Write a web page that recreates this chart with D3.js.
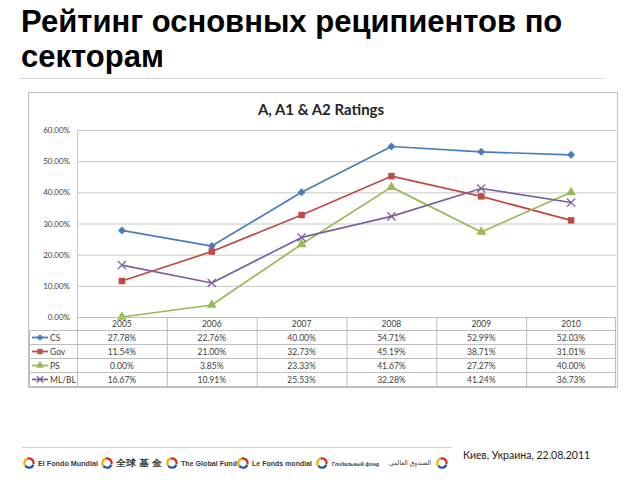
<!DOCTYPE html>
<html><head><meta charset="utf-8">
<script src="https://cdn.jsdelivr.net/npm/d3@7/dist/d3.min.js"></script>
<style>
html,body{margin:0;padding:0;background:#fff;}
svg{display:block;}
</style></head>
<body>
<svg id="c" width="640" height="480"></svg>
<script>
const years = ["2005","2006","2007","2008","2009","2010"];
const seriesNames = ["CS","Gov","PS","ML/BL"];
const CS   = [27.78, 22.76, 40.00, 54.71, 52.99, 52.03];
const Gov  = [11.54, 21.00, 32.73, 45.19, 38.71, 31.01];
const PS   = [0.00, 3.85, 23.33, 41.67, 27.27, 40.00];
const MLBL = [16.67, 10.91, 25.53, 32.28, 41.24, 36.73];
const yTicks = [0, 10, 20, 30, 40, 50, 60];
const pageTitle = ["Рейтинг основных реципиентов по", "секторам"];
const chartTitle = "A, A1 & A2 Ratings";
const footerText = "Киев, Украина, 22.08.2011";
const logoNames = ["El Fondo Mundial", "全球 基 金", "The Global Fund", "Le Fonds mondial", "Глобальный фонд", "الصندوق العالمي"];

(function(){
const series = [
  {name: seriesNames[0], values: CS,   color: "#4A7EBB", sym: "diamond"},
  {name: seriesNames[1], values: Gov,  color: "#BE4B48", sym: "square"},
  {name: seriesNames[2], values: PS,   color: "#98B954", sym: "triangle"},
  {name: seriesNames[3], values: MLBL, color: "#7D60A0", sym: "x"}
];

const svg = d3.select("#c");

// Page title
const tt = svg.append("text").attr("font-family","Liberation Sans, Arial, sans-serif")
  .attr("font-weight","bold").attr("font-size",31).attr("fill","#000");
pageTitle.forEach((t,i)=> tt.append("tspan").attr("x",21).attr("y",32 + i*35).text(t));
svg.append("line").attr("x1",20).attr("x2",605).attr("y1",78.5).attr("y2",78.5)
  .attr("stroke","#d9d9d9").attr("stroke-width",1.2);

// Chart frame
svg.append("rect").attr("x",28.5).attr("y",92.5).attr("width",589).attr("height",295)
  .attr("fill","#fff").attr("stroke","#bfbfbf").attr("stroke-width",1);

svg.append("text").attr("x",321).attr("y",115).attr("text-anchor","middle")
  .attr("font-family","Lato, 'Open Sans', sans-serif").attr("font-weight","bold")
  .attr("font-size",15).attr("fill","#262626").text(chartTitle);

const pLeft = 77, pRight = 616, pTop = 130, pBottom = 317;
const x = d3.scaleBand().domain(years).range([pLeft, pRight]);
const y = d3.scaleLinear().domain([0, 60]).range([pBottom, pTop]);

const fmtAxis = v => d3.format(".2%")(v/100);
const gAxis = svg.append("g").attr("transform",`translate(${pLeft},0)`)
  .call(d3.axisLeft(y).tickValues(yTicks).tickSize(-(pRight-pLeft)).tickPadding(7).tickFormat(fmtAxis));
gAxis.select(".domain").remove();
gAxis.selectAll(".tick line").attr("stroke","#c8c8c8").attr("stroke-width",1);
gAxis.selectAll(".tick text").attr("font-family","Lato, 'Open Sans', sans-serif")
  .attr("font-size",8).attr("fill","#404040");
svg.append("line").attr("x1",pLeft+0.5).attr("x2",pLeft+0.5).attr("y1",pTop).attr("y2",pBottom)
  .attr("stroke","#c8c8c8");

function symPath(s, size){
  if (s==="diamond") return d3.symbol(d3.symbolSquare, size*0.8)();
  if (s==="square") return d3.symbol(d3.symbolSquare, size)();
  if (s==="triangle") return d3.symbol(d3.symbolTriangle, size)();
  return d3.symbol(d3.symbolX || d3.symbolCross, size)();
}
function symStyle(sel, s, color){
  if (s==="x") sel.attr("fill","none").attr("stroke",color).attr("stroke-width",1.3);
  else sel.attr("fill",color).attr("stroke","none");
}
const rot = s => s==="diamond" ? " rotate(45)" : "";

const cx = d => x(d) + x.bandwidth()/2;
const line = d3.line().x((d,i)=>cx(years[i])).y(d=>y(d));

series.forEach(s=>{
  svg.append("path").datum(s.values).attr("d",line).attr("fill","none")
    .attr("stroke",s.color).attr("stroke-width",1.7).attr("stroke-linejoin","round");
});
series.forEach(s=>{
  const g = svg.append("g");
  s.values.forEach((v,i)=>{
    const p = g.append("path").attr("d",symPath(s.sym, s.sym==="diamond"?40:(s.sym==="x"?45:42)))
      .attr("transform",`translate(${cx(years[i])},${y(v)})${rot(s.sym)}`);
    symStyle(p, s.sym, s.color);
  });
});

// Data table
const rowH = 14, headTop = pBottom, headH = 13, legLeft = 29;
const tbl = svg.append("g").attr("font-family","Lato, 'Open Sans', sans-serif").attr("font-size",8.5).attr("fill","#404040");
const tableBottom = headTop + headH + rowH*series.length;
const lc = "#bfbfbf";
tbl.append("line").attr("x1",pLeft).attr("x2",pRight).attr("y1",headTop+0.5).attr("y2",headTop+0.5).attr("stroke",lc);
for (let r=0; r<=series.length; r++){
  const yy = headTop + headH + r*rowH + 0.5;
  tbl.append("line").attr("x1",legLeft).attr("x2",pRight).attr("y1",yy).attr("y2",yy).attr("stroke",lc);
}
years.forEach(yr=>{
  tbl.append("line").attr("x1",x(yr)+0.5).attr("x2",x(yr)+0.5).attr("y1",headTop).attr("y2",tableBottom+0.5).attr("stroke",lc);
});
tbl.append("line").attr("x1",pRight-0.5).attr("x2",pRight-0.5).attr("y1",headTop).attr("y2",tableBottom+0.5).attr("stroke",lc);
tbl.append("line").attr("x1",legLeft+0.5).attr("x2",legLeft+0.5).attr("y1",headTop+headH).attr("y2",tableBottom+0.5).attr("stroke",lc);
years.forEach(yr=>{
  tbl.append("text").attr("x",cx(yr)).attr("y",headTop+headH-3).attr("text-anchor","middle").text(yr);
});
const fmtCell = v => d3.format(".2%")(v/100);
series.forEach((s,r)=>{
  const rowTop = headTop + headH + r*rowH;
  const my = rowTop + rowH/2 + 0.5;
  tbl.append("line").attr("x1",32).attr("x2",48).attr("y1",my).attr("y2",my)
    .attr("stroke",s.color).attr("stroke-width",1.8);
  const p = tbl.append("path").attr("d",symPath(s.sym, 28)).attr("transform",`translate(40,${my})${rot(s.sym)}`);
  symStyle(p, s.sym, s.color);
  tbl.append("text").attr("x",50).attr("y",rowTop+rowH-3.5).text(s.name);
  s.values.forEach((v,i)=>{
    tbl.append("text").attr("x",cx(years[i])).attr("y",rowTop+rowH-3.5).attr("text-anchor","middle").text(fmtCell(v));
  });
});

// Footer
svg.append("line").attr("x1",22).attr("x2",452).attr("y1",447.5).attr("y2",447.5)
  .attr("stroke","#d0d0d0").attr("stroke-width",1);
svg.append("text").attr("x",463).attr("y",459).attr("font-family","Lato, 'Open Sans', sans-serif")
  .attr("font-size",10.5).attr("fill","#222").text(footerText);

const logoX = [22, 100, 165, 236, 315, 435];
const textStart = [38, 116, 181, 252, 332];
const textLen = [60, 46, 56, 60, 47];
const textSize = [7.5, 9, 7.5, 7.5, 6];
const fg = svg.append("g");
function swirl(g, x0, y0){
  const r = 5.8;
  const arc = d3.arc().innerRadius(r-2.3).outerRadius(r);
  const cols = ["#F2B400","#D9261C","#1F5AA6"];
  [[-2.6,-0.3],[-0.3,1.8],[1.9,4.0]].forEach((a,i)=>{
    g.append("path").attr("d",arc({startAngle:a[0],endAngle:a[1]}))
      .attr("transform",`translate(${x0+7},${y0})`).attr("fill",cols[i]);
  });
}
logoNames.forEach((n,i)=>{
  const lx = logoX[i];
  const ly = 463;
  swirl(fg, lx, ly);
  if (i < 5) {
    fg.append("text").attr("x",textStart[i]).attr("y",ly+3).attr("font-family","Liberation Sans, Arial, sans-serif")
      .attr("font-weight","bold").attr("font-size", textSize[i]).attr("fill","#3a3a3a")
      .attr("textLength", textLen[i]).attr("lengthAdjust","spacingAndGlyphs").text(n);
  } else {
    fg.append("text").attr("x",431).attr("y",ly+2).attr("text-anchor","end")
      .attr("font-family","DejaVu Sans, sans-serif").attr("font-size",6.5).attr("fill","#3a3a3a")
      .attr("textLength",42).attr("lengthAdjust","spacingAndGlyphs").text(n);
  }
});
})();
</script>
</body></html>
